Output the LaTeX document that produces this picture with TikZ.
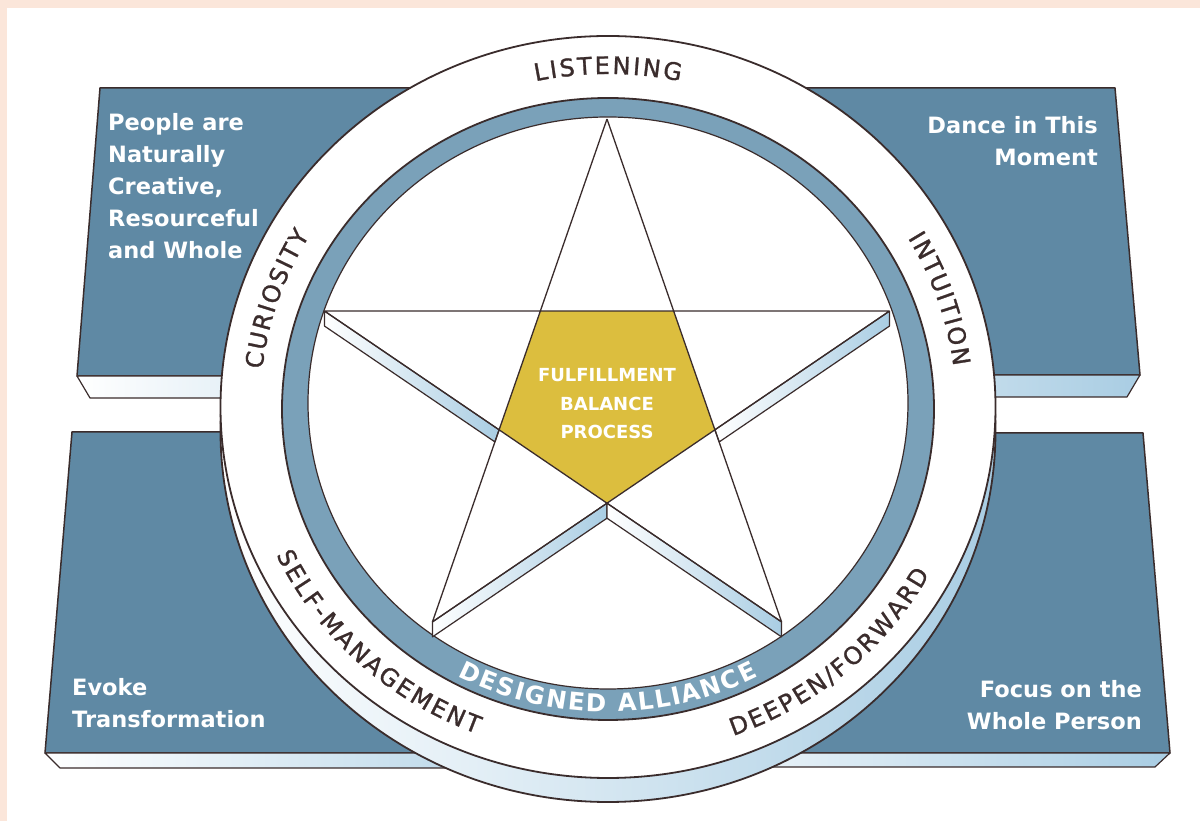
\documentclass[tikz,border=0pt]{standalone}
\usepackage{fontspec}
\usetikzlibrary{decorations.text}
\newfontfamily\dejavu{DejaVu Sans}
\newfontfamily\dejavuheavy[FakeBold=1.2]{DejaVu Sans}
\definecolor{peach}{HTML}{FBE6DA}
\definecolor{panelblue}{HTML}{5F89A4}
\definecolor{ringblue}{HTML}{7AA1B9}
\definecolor{stripblue}{HTML}{A9CDE3}
\definecolor{gold}{HTML}{DCBE3E}
\definecolor{ink}{HTML}{3A2C2C}
\newcommand\ringfont{\dejavuheavy\fontsize{24pt}{24pt}\selectfont}
\newcommand\allyfont{\dejavu\bfseries\fontsize{24.5pt}{24.5pt}\selectfont}
\newcommand\panelfont{\dejavu\bfseries\fontsize{22.5pt}{32pt}\selectfont}

\begin{document}
\begin{tikzpicture}[x=1pt, y=1pt,
  panel/.style={fill=panelblue, draw=ink, line width=1.5pt, line join=round},
  strip/.style={left color=white, right color=stripblue, draw=ink, line width=1.2pt, line join=round},
  face/.style={fill=white, draw=ink, line width=1.8pt},
  ringtext/.style={decorate, decoration={text along path, text={|\ringfont|#1}, text align={fit to path}, text color=ink}},
  allytext/.style={decorate, decoration={text along path, text={|\allyfont|#1}, text align={fit to path}, text color=white}},
  paneltext/.style={text=white, font=\panelfont, inner sep=0pt}]

\useasboundingbox (0,0) rectangle (1200,821);
\fill[peach] (0,0) rectangle (1200,821);
\fill[white] (7,0) rectangle (1200,813);

%%%%%%%%%%%%%%%%%%%%%%%%%%%%%%%%%%%%%%%%

\draw[panel] (100,733) -- (608,733) -- (608,445) -- (77,445) -- cycle;
\draw[strip] (77,445) -- ++(13,-22) -- (608,423) -- (608,445) -- cycle;
\draw[panel] (608,733) -- (1115,733) -- (1140,446) -- (608,446) -- cycle;
\draw[strip] (1140,446) -- ++(-13,-22) -- (608,424) -- (608,446) -- cycle;
\draw[panel] (72,389) -- (608,389) -- (608,68) -- (45,68) -- cycle;
\draw[strip] (45,68) -- ++(15,-15) -- (608,53) -- (608,68) -- cycle;
\draw[panel] (608,388) -- (1143,388) -- (1170,68) -- (608,68) -- cycle;
\draw[strip] (1170,68) -- ++(-15,-14) -- (608,54) -- (608,68) -- cycle;

\node[paneltext, align=left, anchor=north west] (creative) at (108,708) {People are\\Naturally\\Creative,\\Resourceful\\and Whole};
\node[paneltext, align=right, anchor=north east] (dance) at (1098,705) {Dance in This\\Moment};
\node[paneltext, align=left, anchor=north west] (evoke) at (72,143) {Evoke\\Transformation};
\node[paneltext, align=right, anchor=north east] (focus) at (1142,141) {Focus on the\\Whole Person};

%%%%%%%%%%%%%%%%%%%%%%%%%%%%%%%%%%%%%%%%

\path (608,414) coordinate (hub);
\draw[strip, line width=1.8pt] (hub) ++(0,-24) ellipse [x radius=387.5pt, y radius=371pt];
\draw[face] (hub) ellipse [x radius=387.5pt, y radius=371pt];
\draw[fill=ringblue, draw=ink, line width=1.8pt] (608,412) ellipse [x radius=326pt, y radius=311pt];
\draw[face, line width=1.2pt] (608,418) ellipse [x radius=300pt, y radius=286pt];

\path[ringtext=LISTENING] (hub) ++(102:348pt and 333pt) arc[start angle=102, end angle=78, x radius=348pt, y radius=333pt];
\path[ringtext=CURIOSITY] (hub) ++(173.5:348pt and 333pt) arc[start angle=173.5, end angle=149, x radius=348pt, y radius=333pt];
\path[ringtext=INTUITION] (hub) ++(30.5:348pt and 333pt) arc[start angle=30.5, end angle=7, x radius=348pt, y radius=333pt];
\path[ringtext=SELF-MANAGEMENT] (hub) ++(205:366pt and 350pt) arc[start angle=205, end angle=249, x radius=366pt, y radius=350pt];
\path[ringtext=DEEPEN/FORWARD] (hub) ++(290:366pt and 350pt) arc[start angle=290, end angle=331.5, x radius=366pt, y radius=350pt];
\path[allytext=DESIGNED ALLIANCE] (hub) ++(242:320pt and 305pt) arc[start angle=242, end angle=298, x radius=320pt, y radius=305pt];

%%%%%%%%%%%%%%%%%%%%%%%%%%%%%%%%%%%%%%%%

\path (607,424) coordinate (sc);
\foreach \a/\n in {90/1, 162/2, 234/3, 306/4, 18/5}
  \path (sc) ++(\a:297pt and 278pt) coordinate (p\n) ++(0,-15) coordinate (p\n d);
\foreach \a/\n in {126/1, 198/2, 270/3, 342/4, 54/5}
  \path (sc) ++(\a:113.5pt and 106.2pt) coordinate (q\n) ++(0,-15) coordinate (q\n d);

\draw[strip] (p2) -- (q2) -- (intersection of p2d--q2d and q2--p3) -- (p2d) -- cycle;
\draw[strip] (q4) -- (p5) -- (p5d) -- (intersection of q4d--p5d and q4--p4) -- cycle;
\draw[strip] (p3) -- (q3) -- (q3d) -- (p3d) -- cycle;
\draw[strip] (q3) -- (p4) -- (p4d) -- (q3d) -- cycle;
\fill[gold] (q1) -- (q2) -- (q3) -- (q4) -- (q5) -- cycle;
\draw[ink, line width=1.3pt, line join=round]
  (p1) -- (p3) (p1) -- (p4) (p2) -- (p5) (p2) -- (p4) (p5) -- (p3);

\node[text=white, font=\dejavu\bfseries\fontsize{18pt}{28.5pt}\selectfont, align=center, inner sep=0pt] (core) at (607,417) {FULFILLMENT\\BALANCE\\PROCESS};

\end{tikzpicture}
\end{document}
